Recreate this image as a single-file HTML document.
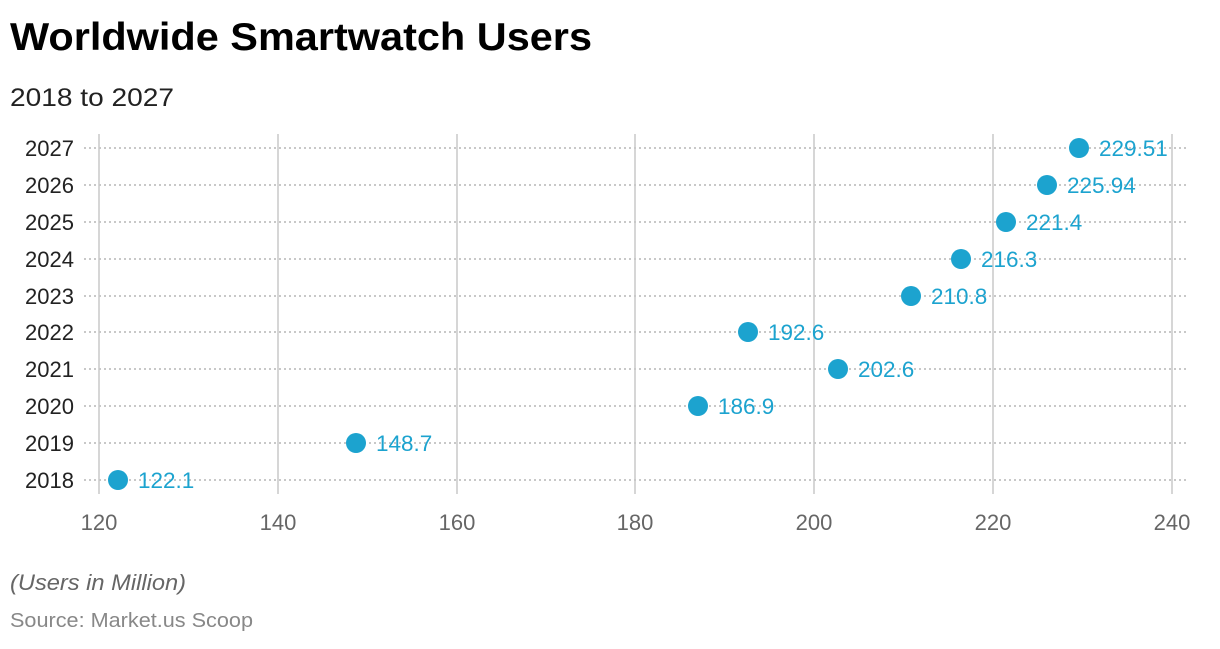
<!DOCTYPE html>
<html><head><meta charset="utf-8"><style>
body{margin:0;background:#fff;width:1220px;height:644px;overflow:hidden;font-family:"Liberation Sans",Arial,sans-serif}
</style></head><body>
<svg width="1220" height="644" xmlns="http://www.w3.org/2000/svg" font-family="Liberation Sans, Arial, sans-serif">
<text x="10" y="50" font-size="39" font-weight="bold" fill="#000" textLength="582" lengthAdjust="spacingAndGlyphs">Worldwide Smartwatch Users</text>
<text x="10" y="106" font-size="25" fill="#222" textLength="164" lengthAdjust="spacingAndGlyphs">2018 to 2027</text>
<g stroke="#d6d6d6" stroke-width="2">
<line x1="99" y1="134" x2="99" y2="494"/><line x1="278" y1="134" x2="278" y2="494"/><line x1="457" y1="134" x2="457" y2="494"/><line x1="635" y1="134" x2="635" y2="494"/><line x1="814" y1="134" x2="814" y2="494"/><line x1="993" y1="134" x2="993" y2="494"/><line x1="1172" y1="134" x2="1172" y2="494"/>
</g>
<g stroke="#c8c8c8" stroke-width="2" stroke-dasharray="2,3">
<line x1="84" y1="148" x2="1186" y2="148"/><line x1="84" y1="185" x2="1186" y2="185"/><line x1="84" y1="222" x2="1186" y2="222"/><line x1="84" y1="259" x2="1186" y2="259"/><line x1="84" y1="296" x2="1186" y2="296"/><line x1="84" y1="332" x2="1186" y2="332"/><line x1="84" y1="369" x2="1186" y2="369"/><line x1="84" y1="406" x2="1186" y2="406"/><line x1="84" y1="443" x2="1186" y2="443"/><line x1="84" y1="480" x2="1186" y2="480"/>
</g>
<g font-size="22" fill="#222" text-anchor="end">
<text x="74" y="156">2027</text><text x="74" y="193">2026</text><text x="74" y="230">2025</text><text x="74" y="267">2024</text><text x="74" y="304">2023</text><text x="74" y="340">2022</text><text x="74" y="377">2021</text><text x="74" y="414">2020</text><text x="74" y="451">2019</text><text x="74" y="488">2018</text>
</g>
<g font-size="22" fill="#666" text-anchor="middle">
<text x="99" y="530">120</text><text x="278" y="530">140</text><text x="457" y="530">160</text><text x="635" y="530">180</text><text x="814" y="530">200</text><text x="993" y="530">220</text><text x="1172" y="530">240</text>
</g>
<g fill="#1ca3cf">
<circle cx="1079" cy="148" r="10"/><circle cx="1047" cy="185" r="10"/><circle cx="1006" cy="222" r="10"/><circle cx="961" cy="259" r="10"/><circle cx="911" cy="296" r="10"/><circle cx="748" cy="332" r="10"/><circle cx="838" cy="369" r="10"/><circle cx="698" cy="406" r="10"/><circle cx="356" cy="443" r="10"/><circle cx="118" cy="480" r="10"/>
</g>
<g font-size="22.5" fill="#1ca3cf">
<text x="1099" y="156">229.51</text><text x="1067" y="193">225.94</text><text x="1026" y="230">221.4</text><text x="981" y="267">216.3</text><text x="931" y="304">210.8</text><text x="768" y="340">192.6</text><text x="858" y="377">202.6</text><text x="718" y="414">186.9</text><text x="376" y="451">148.7</text><text x="138" y="488">122.1</text>
</g>
<text x="10" y="590" font-size="22" font-style="italic" fill="#666" textLength="176" lengthAdjust="spacingAndGlyphs">(Users in Million)</text>
<text x="10" y="627" font-size="20" fill="#888" textLength="243" lengthAdjust="spacingAndGlyphs">Source: Market.us Scoop</text>
</svg>
</body></html>
